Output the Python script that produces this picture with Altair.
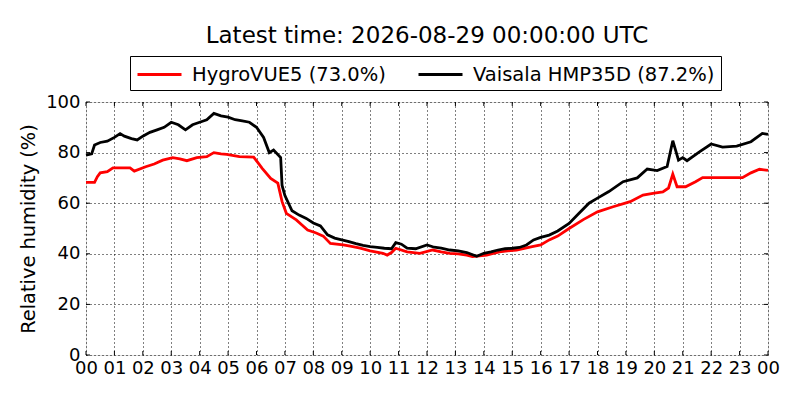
import altair as alt
import pandas as pd

TITLE = "Latest time: 2026-08-29 00:00:00 UTC"
Y_TITLE = "Relative humidity (%)"
SERIES_RED = "HygroVUE5 (73.0%)"
SERIES_BLACK = "Vaisala HMP35D (87.2%)"

x_ticks = list(range(0, 25))
y_ticks = [0, 20, 40, 60, 80, 100]

black_hours = [0.0, 0.2, 0.3, 0.5, 0.75, 1.0, 1.2, 1.35, 1.6, 1.8, 2.0, 2.25, 2.5, 2.75,
               3.0, 3.25, 3.5, 3.75, 4.0, 4.25, 4.5, 4.75, 5.0, 5.25, 5.5, 5.75, 6.0,
               6.25, 6.45, 6.6, 6.85, 6.9, 7.0, 7.25, 7.5, 7.75, 8.0, 8.25, 8.5, 8.75,
               9.0, 9.25, 9.5, 9.75, 10.0, 10.25, 10.5, 10.75, 10.9, 11.1, 11.3, 11.6,
               12.0, 12.25, 12.5, 12.8, 13.1, 13.4, 13.75, 14.0, 14.25, 14.5, 14.75,
               15.0, 15.25, 15.5, 15.75, 16.0, 16.3, 16.6, 17.0, 17.35, 17.7, 18.0,
               18.4, 18.9, 19.4, 19.75, 20.1, 20.45, 20.65, 20.85, 21.0, 21.15, 21.6,
               22.0, 22.4, 22.9, 23.4, 23.8, 24.0]
black_values = [79, 79.5, 83, 84, 84.5, 86, 87.5, 86.5, 85.5, 85, 86.5, 88, 89, 90,
                92, 91, 89, 91, 92, 93, 95.5, 94.5, 94, 93, 92.5, 92, 90,
                86, 80, 81, 78, 67, 63, 57, 55.3, 54, 52.2, 51, 47.5, 46.2,
                45.5, 44.8, 44, 43.3, 42.8, 42.5, 42.2, 42, 44.4, 43.8, 42.2, 42,
                43.5, 42.6, 42.2, 41.5, 41.2, 40.5, 39, 40.2, 40.8, 41.5, 42,
                42.2, 42.5, 43.5, 45.5, 46.5, 47.4, 49, 52, 56, 60, 62,
                64.6, 68.5, 70, 73.5, 72.9, 74.5, 84.7, 77, 78, 76.8, 80.4,
                83.4, 82.2, 82.6, 84.3, 87.6, 87.2]

red_hours = [0.0, 0.3, 0.4, 0.5, 0.75, 0.95, 1.25, 1.55, 1.7, 2.1, 2.4, 2.7, 3.05, 3.3,
             3.55, 3.9, 4.25, 4.5, 4.75, 4.95, 5.4, 5.9, 6.05, 6.2, 6.5, 6.75, 6.9,
             7.05, 7.4, 7.6, 7.8, 8.1, 8.35, 8.6, 9.05, 9.3, 9.65, 10.0, 10.45, 10.6,
             10.75, 10.9, 11.3, 11.75, 12.2, 12.5, 12.8, 13.1, 13.4, 13.6, 14.1,
             14.55, 15.15, 15.7, 16.0, 16.3, 16.6, 17.0, 17.5, 18.0, 18.55, 19.15,
             19.6, 20.0, 20.3, 20.5, 20.65, 20.8, 21.1, 21.45, 21.7, 23.1, 23.4,
             23.7, 24.0]
red_values = [68.2, 68.2, 70.5, 72, 72.5, 74, 74, 74, 72.7, 74.4, 75.5, 77, 78, 77.5,
              76.8, 78, 78.4, 80, 79.5, 79.3, 78.4, 78.2, 76, 73.8, 69.8, 67.9, 60.6,
              56, 53.4, 51.4, 49.4, 48.2, 47, 44.1, 43.5, 43, 42.2, 41.2, 40.2, 39.5,
              40.5, 42.2, 40.8, 40.2, 41.5, 40.8, 40.2, 40, 39.5, 38.9, 39.5,
              40.8, 41.5, 42.8, 43.5, 45.5, 47, 50, 53.5, 56.6, 58.6, 60.6,
              63.2, 64, 64.5, 66, 71.5, 66.5, 66.5, 68.5, 70.1, 70.1, 72,
              73.4, 73.0]

FONT = "DejaVu Sans"
W, H = 682, 253

df = pd.concat([
    pd.DataFrame({"hour": red_hours, "rh": red_values, "series": SERIES_RED, "order": 0}),
    pd.DataFrame({"hour": black_hours, "rh": black_values, "series": SERIES_BLACK, "order": 1}),
], ignore_index=True)

xscale = alt.Scale(domain=[0, 24], nice=False, zero=False)
yscale = alt.Scale(domain=[0, 100], nice=False)

x_axis = alt.Axis(values=x_ticks, title=None, grid=True, domain=False, tickSize=0,
                  labelExpr="(datum.value % 24 < 10 ? '0' : '') + (datum.value % 24)",
                  labelFontSize=18, labelFont=FONT, labelColor="black",
                  labelPadding=4, labelFlush=False, labelOverlap=False,
                  gridColor="black", gridDash=[1, 3], gridWidth=1, gridOpacity=1)
y_axis = alt.Axis(values=y_ticks, title=Y_TITLE, grid=True, domain=False, tickSize=0,
                  labelFontSize=18, labelFont=FONT, labelColor="black",
                  labelPadding=6, labelFlush=False, labelOverlap=False,
                  titleFontSize=19.4, titleFont=FONT, titleFontWeight="normal",
                  titleColor="black", titlePadding=7,
                  gridColor="black", gridDash=[1, 3], gridWidth=1, gridOpacity=1)

lines = alt.Chart(df).mark_line(strokeWidth=2.8).encode(
    x=alt.X("hour:Q", scale=xscale, axis=x_axis),
    y=alt.Y("rh:Q", scale=yscale, axis=y_axis),
    color=alt.Color("series:N",
                    scale=alt.Scale(domain=[SERIES_RED, SERIES_BLACK], range=["#ff0000", "#000000"]),
                    legend=alt.Legend(orient="none", legendX=44, legendY=-46, title=None,
                                      direction="horizontal", columns=2,
                                      strokeColor="black", fillColor="white", padding=6,
                                      symbolType="M-1,0L3,0", symbolSize=484, symbolStrokeWidth=2.8,
                                      labelFontSize=19.5, labelFont=FONT, labelColor="black",
                                      labelOffset=31, columnPadding=26, labelLimit=400,
                                      cornerRadius=0)),
    order="order:Q",
)

# inward tick marks on all four sides
tlx = 24 * 4 / W
tly = 100 * 4 / H
xt = pd.DataFrame({"hour": x_ticks})
yt = pd.DataFrame({"rh": y_ticks})
tick_style = dict(color="black", strokeWidth=1)
bottom = alt.Chart(xt).mark_rule(**tick_style).encode(
    x=alt.X("hour:Q", scale=xscale, axis=x_axis),
    y=alt.Y(datum=0, scale=yscale, axis=y_axis), y2=alt.datum(tly))
top = alt.Chart(xt).mark_rule(**tick_style).encode(
    x=alt.X("hour:Q", scale=xscale, axis=x_axis),
    y=alt.Y(datum=100 - tly, scale=yscale, axis=y_axis), y2=alt.datum(100))
left = alt.Chart(yt).mark_rule(**tick_style).encode(
    y=alt.Y("rh:Q", scale=yscale, axis=y_axis),
    x=alt.X(datum=0, scale=xscale, axis=x_axis), x2=alt.datum(tlx))
right = alt.Chart(yt).mark_rule(**tick_style).encode(
    y=alt.Y("rh:Q", scale=yscale, axis=y_axis),
    x=alt.X(datum=24 - tlx, scale=xscale, axis=x_axis), x2=alt.datum(24))

chart = alt.layer(lines, bottom, top, left, right).properties(
    width=W, height=H,
    title=alt.TitleParams(TITLE, fontSize=23, font=FONT, fontWeight="normal", color="black",
                          anchor="middle", baseline="bottom", offset=-15),
    autosize=alt.AutoSizeParams(type="none"),
    padding={"left": 78, "top": 94, "right": 24, "bottom": 37},
).configure_view(stroke="black", strokeWidth=1.5).configure(background="white")

chart.save("out.html", embed_options={"renderer": "svg", "actions": False})
